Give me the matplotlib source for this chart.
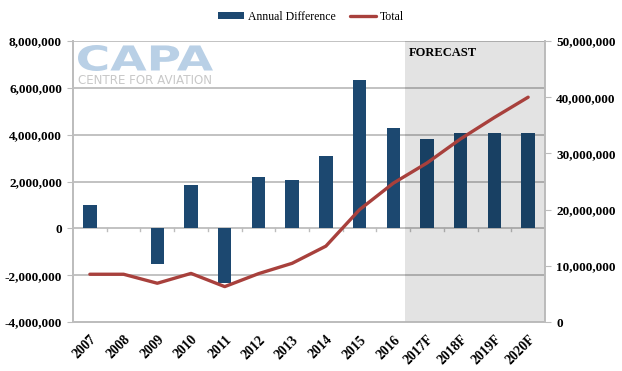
import matplotlib
matplotlib.use('Agg')
import matplotlib.pyplot as plt
import numpy as np
from matplotlib.ticker import FuncFormatter
from matplotlib.textpath import TextPath
from matplotlib.patches import PathPatch
from matplotlib.font_manager import FontProperties
from matplotlib.transforms import Affine2D

years = ['2007', '2008', '2009', '2010', '2011', '2012', '2013', '2014',
         '2015', '2016', '2017F', '2018F', '2019F', '2020F']
annual_diff = [1000000, 20000, -1510000, 1850000, -2350000, 2200000, 2050000,
               3080000, 6330000, 4270000, 3800000, 4070000, 4070000, 4070000]
total = [8500000, 8500000, 6900000, 8650000, 6300000, 8600000, 10450000,
         13500000, 20000000, 24700000, 28300000, 32600000, 36400000, 40000000]

plt.rcParams['font.family'] = ['Liberation Serif', 'DejaVu Serif']

fig = plt.figure(figsize=(6.22, 3.71), dpi=100)
ax = fig.add_axes([0.1174, 0.132, 0.7588, 0.7575])
ax2 = ax.twinx()

x = np.arange(len(years))
bar_col = '#1c4870'
line_col = '#a8403c'
grid_col = '#bdbdbd'

ax.set_zorder(1)
ax2.set_zorder(2)
ax.patch.set_visible(False)

for yv in range(-4000000, 8000001, 2000000):
    ax.axhline(yv, color=grid_col, lw=1.3, zorder=0)

bars = ax.bar(x, annual_diff, width=0.4, color=bar_col, label='Annual Difference', zorder=2)

# forecast shading over the bars
ax.axvspan(9.35, 13.5, color='black', alpha=0.11, lw=0, zorder=3)
ax.text(9.45, 7500000, 'FORECAST', fontsize=9, fontweight='bold', va='center', ha='left', zorder=4)

line, = ax2.plot(x, total, color=line_col, lw=2.4, label='Total', solid_capstyle='round')

ax.set_xlim(-0.5, 13.5)
ax.set_ylim(-4000000, 8000000)
ax2.set_ylim(0, 50000000)

ax.set_yticks(range(-4000000, 8000001, 2000000))
ax2.set_yticks(range(0, 50000001, 10000000))
fmt = FuncFormatter(lambda v, p: '{:,.0f}'.format(v))
ax.yaxis.set_major_formatter(fmt)
ax2.yaxis.set_major_formatter(fmt)

ax.set_xticks(x)
ax.set_xticklabels(years, rotation=45, ha='right', rotation_mode='anchor')
ax.tick_params(axis='x', length=0, pad=8)
ax.tick_params(axis='y', length=4, color=grid_col, labelsize=9.5, pad=4)
ax2.tick_params(axis='y', length=4, color=grid_col, labelsize=9.5, pad=4)
for lab in ax.get_xticklabels() + ax.get_yticklabels() + ax2.get_yticklabels():
    lab.set_fontweight('bold')
for lab in ax.get_xticklabels():
    lab.set_fontsize(9.8)

# small category ticks on the zero line
for b in np.arange(0.5, 13, 1):
    ax.plot([b, b], [0, -120000], color=grid_col, lw=1, zorder=1)

for a in (ax, ax2):
    for s in a.spines.values():
        s.set_color(grid_col)
        s.set_linewidth(1.3)
    a.spines['top'].set_visible(False)

# logo watermark, stretched wide like the CAPA mark
tp = TextPath((0, 0), 'CAPA', size=30, prop=FontProperties(family='DejaVu Sans', weight='bold'))
bb = tp.get_extents()
sx = 135.0 / bb.width
sy = 26.0 / bb.height
tr = Affine2D().translate(-bb.x0, -bb.y0).scale(sx, sy).translate(78, 371 - 71)
fig.patches.append(PathPatch(tr.transform_path(tp), facecolor='#b9d0e6', edgecolor='none',
                             transform=None, figure=fig))
fig.text(78 / 622, (371 - 84) / 371, 'CENTRE FOR AVIATION', fontsize=8.6, color='#c8c8c8',
         family='DejaVu Sans', ha='left', va='baseline')

fig.legend([bars, line], ['Annual Difference', 'Total'], loc='upper center',
           bbox_to_anchor=(0.5, 1.0), ncol=2, frameon=False, fontsize=8.5,
           handlelength=2.2, handleheight=0.6, columnspacing=1.2, handletextpad=0.3)

fig.savefig('out.png', dpi=100)
